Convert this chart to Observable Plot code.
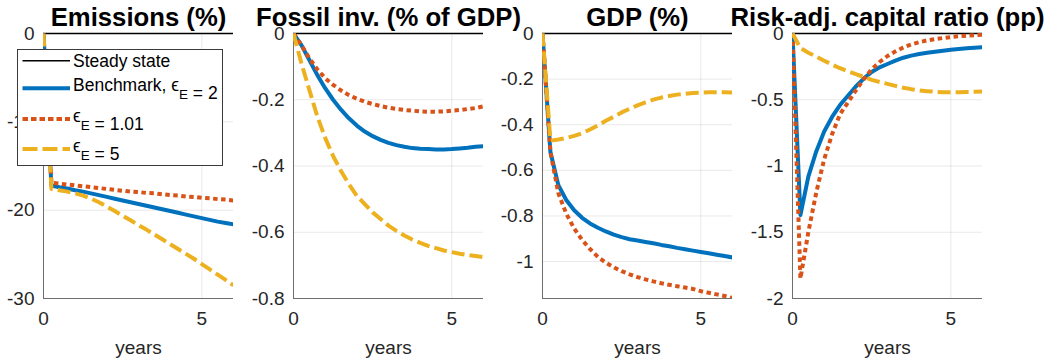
<!DOCTYPE html>
<html>
<head>
<meta charset="utf-8">
<script src="https://cdn.jsdelivr.net/npm/d3@7"></script>
<script src="https://cdn.jsdelivr.net/npm/@observablehq/plot@0.6"></script>
<style>
  html, body { margin: 0; padding: 0; background: #fff; }
  #chart { position: relative; width: 1052px; height: 360px; overflow: hidden; font-family: "Liberation Sans", Arial, sans-serif; }
</style>
</head>
<body>
<div id="chart"></div>
<script>
// Quarterly horizon, in years after the shock
const years = [0, 0.25, 0.5, 0.75, 1, 1.25, 1.5, 1.75, 2, 2.25, 2.5, 2.75, 3,
               3.25, 3.5, 3.75, 4, 4.25, 4.5, 4.75, 5, 5.25, 5.5, 5.75, 6];

// Series labels and colours (benchmark eps_E = 2, eps_E = 1.01, eps_E = 5)
const seriesKeys = ["bench", "low", "high"];
const seriesColors = { bench: "#0072BD", low: "#D95319", high: "#EDB120" };

// Panel titles
const titles = ["Emissions (%)", "Fossil inv. (% of GDP)", "GDP (%)", "Risk-adj. capital ratio (pp)"];

// Emissions (%)
const emisBench = [0, -17.2, -17.4, -17.55, -17.75, -17.9, -18.1, -18.3, -18.5, -18.7, -18.9, -19.1, -19.3,
                   -19.5, -19.7, -19.9, -20.1, -20.3, -20.5, -20.7, -20.9, -21.1, -21.3, -21.45, -21.6];
const emisLow   = [0, -16.9, -17.0, -17.1, -17.2, -17.3, -17.4, -17.5, -17.6, -17.7, -17.8, -17.9, -17.95,
                   -18.05, -18.1, -18.2, -18.3, -18.35, -18.45, -18.5, -18.6, -18.65, -18.75, -18.8, -18.9];
const emisHigh  = [0, -17.6, -17.75, -17.9, -18.1, -18.35, -18.7, -19.1, -19.6, -20.1, -20.65, -21.15, -21.7,
                   -22.2, -22.75, -23.3, -23.85, -24.4, -24.95, -25.5, -26.1, -26.7, -27.3, -27.9, -28.5];

// Fossil investment (% of GDP)
const fosBench = [0, -0.035, -0.08, -0.125, -0.165, -0.2, -0.23, -0.256, -0.278, -0.296, -0.31, -0.321, -0.33,
                  -0.337, -0.342, -0.346, -0.348, -0.349, -0.35, -0.35, -0.349, -0.347, -0.345, -0.342, -0.34];
const fosLow   = [0, -0.035, -0.075, -0.108, -0.135, -0.155, -0.172, -0.186, -0.197, -0.206, -0.213, -0.219, -0.224,
                  -0.228, -0.231, -0.233, -0.235, -0.236, -0.236, -0.235, -0.233, -0.231, -0.228, -0.225, -0.22];
const fosHigh  = [0, -0.09, -0.17, -0.25, -0.315, -0.37, -0.415, -0.455, -0.49, -0.515, -0.54, -0.56, -0.58,
                  -0.596, -0.61, -0.622, -0.632, -0.641, -0.648, -0.655, -0.66, -0.665, -0.669, -0.672, -0.675];

// GDP (%)
const gdpBench = [0, -0.52, -0.665, -0.73, -0.775, -0.808, -0.833, -0.852, -0.868, -0.882, -0.893, -0.902, -0.908,
                  -0.914, -0.92, -0.927, -0.933, -0.94, -0.946, -0.952, -0.958, -0.964, -0.97, -0.976, -0.982];
const gdpLow   = [0, -0.52, -0.7, -0.79, -0.855, -0.905, -0.945, -0.98, -1.005, -1.025, -1.042, -1.056, -1.068,
                  -1.078, -1.087, -1.095, -1.102, -1.108, -1.114, -1.12, -1.13, -1.137, -1.144, -1.151, -1.16];
const gdpHigh  = [0, -0.47, -0.465, -0.458, -0.449, -0.437, -0.421, -0.403, -0.383, -0.365, -0.346, -0.33, -0.315,
                  -0.302, -0.29, -0.281, -0.274, -0.268, -0.264, -0.261, -0.259, -0.258, -0.258, -0.258, -0.259];

// Risk-adjusted capital ratio (pp)
const riskBench = [0, -1.37, -1.08, -0.89, -0.74, -0.63, -0.54, -0.47, -0.4, -0.34, -0.29, -0.255, -0.23,
                   -0.205, -0.183, -0.167, -0.155, -0.146, -0.138, -0.13, -0.123, -0.117, -0.112, -0.107, -0.103];
const riskLow   = [0, -1.85, -1.5, -1.2, -0.95, -0.76, -0.61, -0.52, -0.43, -0.345, -0.27, -0.215, -0.17,
                   -0.135, -0.105, -0.083, -0.066, -0.052, -0.042, -0.034, -0.027, -0.021, -0.016, -0.012, -0.009];
const riskHigh  = [0, -0.11, -0.145, -0.175, -0.205, -0.235, -0.262, -0.285, -0.306, -0.328, -0.35, -0.366, -0.38,
                   -0.395, -0.409, -0.42, -0.429, -0.435, -0.44, -0.443, -0.444, -0.443, -0.442, -0.44, -0.438];

// Y-axis extents and tick values per panel
const yDomains = [[-30, 0], [-0.8, 0], [-1.162, 0], [-2, 0]];
const yTicks = [[-30, -20, -10, 0], [-0.8, -0.6, -0.4, -0.2, 0], [-1, -0.8, -0.6, -0.4, -0.2, 0], [-2, -1.5, -1, -0.5, 0]];
const xTicks = [0, 5];

const panelSeries = [
  { bench: emisBench, low: emisLow, high: emisHigh },
  { bench: fosBench, low: fosLow, high: fosHigh },
  { bench: gdpBench, low: gdpLow, high: gdpHigh },
  { bench: riskBench, low: riskLow, high: riskHigh }
];

const FONT = "'Liberation Sans', Arial, Helvetica, sans-serif";
const dashes = { bench: null, low: "4.5,3.5", high: "13,5" };
const panelLefts = [0, 250, 499, 749];
const chart = document.getElementById("chart");

function panel(i) {
  const s = panelSeries[i];
  const rows = years.map((t, k) => ({ t, bench: s.bench[k], low: s.low[k], high: s.high[k] }));
  const [y0] = yDomains[i];
  const lines = seriesKeys.map(key => Plot.line(rows, {
    x: "t", y: key, stroke: seriesColors[key], strokeWidth: 4,
    strokeDasharray: dashes[key], strokeLinecap: "butt", strokeLinejoin: "round", clip: true
  }));
  return Plot.plot({
    width: 250, height: 360,
    marginLeft: 43, marginRight: 17, marginTop: 33, marginBottom: 62,
    style: {
      position: "absolute", left: panelLefts[i] + "px", top: "0px",
      overflow: "visible", background: "transparent",
      fontFamily: FONT, fontSize: "19px", color: "#262626"
    },
    x: { domain: [0, 6], ticks: xTicks, tickSize: 0, tickPadding: 13, grid: true, label: null, tickFormat: d => String(d) },
    y: { domain: yDomains[i], ticks: yTicks[i], tickSize: 0, tickPadding: 9, grid: true, label: null, tickFormat: d => String(d) },
    marks: [
      Plot.ruleX([0], { stroke: "#6e6e6e", strokeWidth: 1 }),
      Plot.ruleY([y0], { stroke: "#6e6e6e", strokeWidth: 1 }),
      Plot.ruleY([0], { stroke: "#000", strokeWidth: 1.5 }),
      ...lines,
      Plot.text([titles[i]], { frameAnchor: "top", dy: -26, fontSize: 25.7, fontWeight: "bold", fill: "#000", fontFamily: FONT }),
      Plot.text(["years"], { frameAnchor: "bottom", dy: 55, fontSize: 19, fill: "#262626", fontFamily: FONT })
    ]
  });
}

for (let i = 0; i < 4; i++) chart.appendChild(panel(i));

// Legend box drawn over the first panel
const ns = "http://www.w3.org/2000/svg";
const leg = document.createElementNS(ns, "svg");
leg.setAttribute("width", 1052);
leg.setAttribute("height", 360);
leg.style.position = "absolute";
leg.style.left = "0px";
leg.style.top = "0px";
leg.style.fontFamily = FONT;
const legendEntries = [
  { y: 60.7, base: 67.3, stroke: "#000", width: 1.5, dash: null, parts: [["Steady state"]] },
  { y: 88.3, base: 90.7, stroke: seriesColors.bench, width: 4, dash: null, parts: [["Benchmark, ϵ"], ["E", "sub"], [" = 2"]] },
  { y: 119, base: 121.7, stroke: seriesColors.low, width: 4, dash: "5.5,3", parts: [["ϵ"], ["E", "sub"], [" = 1.01"]] },
  { y: 149, base: 151.7, stroke: seriesColors.high, width: 4, dash: "15,5", parts: [["ϵ"], ["E", "sub"], [" = 5"]] }
];
let html = `<rect x="17.5" y="49.5" width="205" height="116" fill="#fff" stroke="#3a3a3a" stroke-width="1"/>`;
for (const e of legendEntries) {
  html += `<line x1="22.5" x2="70" y1="${e.y}" y2="${e.y}" stroke="${e.stroke}" stroke-width="${e.width}"${e.dash ? ` stroke-dasharray="${e.dash}"` : ""}/>`;
  let spans = "";
  for (const [txt, kind] of e.parts) {
    if (kind === "sub") spans += `<tspan dy="8.5" font-size="13.5">${txt}</tspan><tspan dy="-8.5"></tspan>`;
    else spans += `<tspan>${txt}</tspan>`;
  }
  html += `<text x="73" y="${e.base}" font-size="17.5" fill="#000" xml:space="preserve">${spans}</text>`;
}
leg.innerHTML = html;
chart.appendChild(leg);
</script>
</body>
</html>
